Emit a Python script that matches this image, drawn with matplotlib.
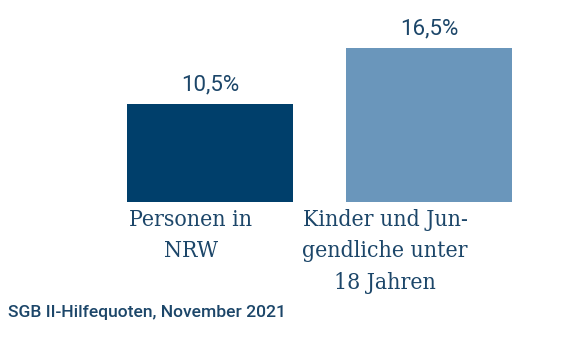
import matplotlib
matplotlib.use("Agg")
import matplotlib.pyplot as plt

# data
categories = ["Personen in\nNRW", "Kinder und Jun-\ngendliche unter\n18 Jahren"]
values = [10.5, 16.5]
value_labels = ["10,5%", "16,5%"]
colors = ["#003f6b", "#6a96bb"]
footer = "SGB II-Hilfequoten, November 2021"

text_color = "#1c4669"

fig = plt.figure(figsize=(5.76, 3.41), dpi=100)
ax = fig.add_axes([100.5 / 576, 139 / 341, 438 / 576, 192 / 341])

x = list(range(len(values)))
bars = ax.bar(x, values, width=0.758, color=colors)
ax.set_xlim(-0.5, 1.5)
ax.set_ylim(0, 20.6)
ax.axis("off")

for b, lab in zip(bars, value_labels):
    ax.annotate(lab, (b.get_x() + b.get_width() / 2, b.get_height()),
                xytext=(0, 6), textcoords="offset points",
                ha="center", va="bottom", fontsize=16,
                family="Roboto", color=text_color)

# category labels sit a bit left of the bar centres
label_shift = [-0.087, -0.2]
for i, (cat, sh) in enumerate(zip(categories, label_shift)):
    ax.annotate(cat, (i + sh, 0), xytext=(0, -5), textcoords="offset points",
                ha="center", va="top", fontsize=16.5, family="DejaVu Serif",
                stretch="condensed", color=text_color, linespacing=1.55)

fig.text(8 / 576, 1 - 317 / 341, footer, fontsize=12.6, family="Roboto",
         weight="medium", color=text_color, ha="left", va="baseline")

fig.savefig("out.png", dpi=100)
